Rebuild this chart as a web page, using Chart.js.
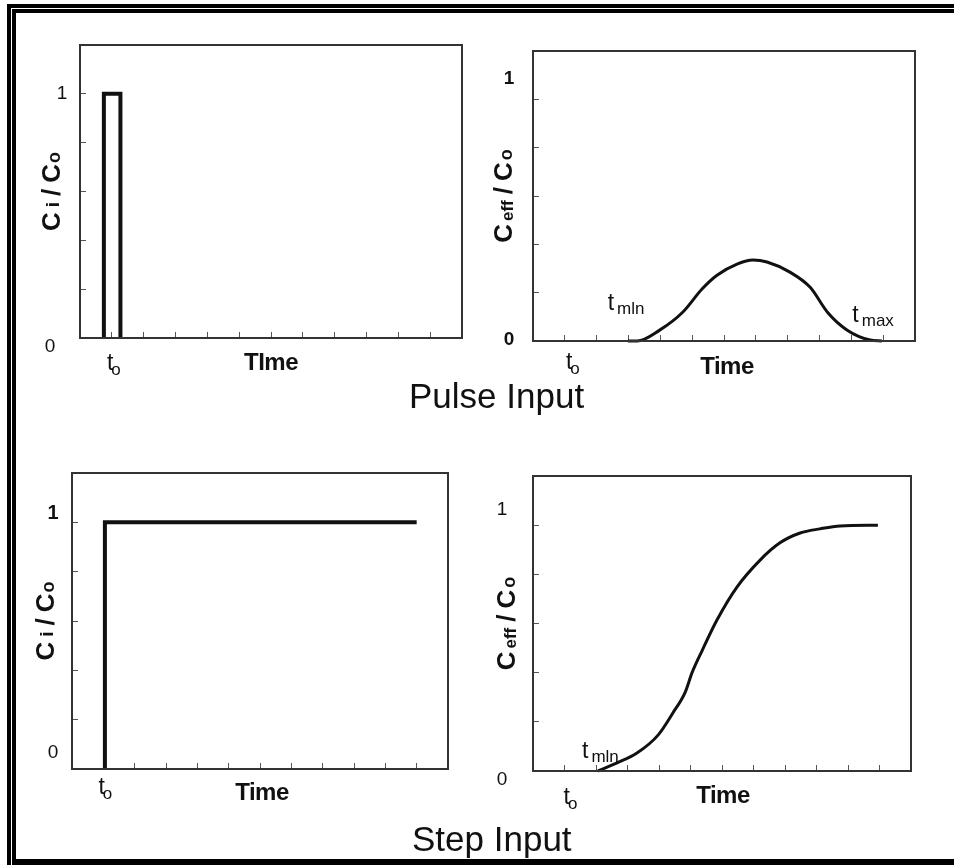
<!DOCTYPE html>
<html>
<head>
<meta charset="utf-8">
<script src="https://cdn.jsdelivr.net/npm/chart.js@4.4.0/dist/chart.umd.min.js"></script>
<style>
html, body { margin: 0; padding: 0; background: #fff; }
body { width: 954px; height: 865px; position: relative; overflow: hidden; font-family: 'Liberation Sans', Arial, sans-serif; }
canvas { position: absolute; }
.bar { position: absolute; background: #000; }
.big { position: absolute; font-size: 35px; line-height: 35px; color: #111; white-space: nowrap; }
</style>
</head>
<body>
<div class="bar" style="left:7px;top:4px;right:0;height:4px"></div>
<div class="bar" style="left:12px;top:9px;right:0;height:4px"></div>
<div class="bar" style="left:7px;top:4px;width:4px;bottom:0"></div>
<div class="bar" style="left:12px;top:9px;width:4px;bottom:0"></div>
<div class="bar" style="left:12px;bottom:0;right:0;height:6px"></div>

<canvas id="c1" width="477" height="420" style="left:0;top:0"></canvas>
<canvas id="c2" width="477" height="420" style="left:477px;top:0"></canvas>
<canvas id="c3" width="477" height="445" style="left:0;top:420px"></canvas>
<canvas id="c4" width="477" height="445" style="left:477px;top:420px"></canvas>

<div class="big" style="left:409px;top:378px">Pulse Input</div>
<div class="big" style="left:412px;top:821px">Step Input</div>

<script>
// --- DATA ---
const timeMin = 0, timeMax = 12, timeStep = 1;
const concMin = 0, concMax = 1.2, concStep = 0.2;
const yTickValues = [0, 1];
const yTickLabels = ['0', '1'];
const toTime = 1; // t_o on the time axis

// pulse input (top left)
const pulseInTime = [0.75, 0.75, 1.27, 1.27];
const pulseInConc = [0, 1, 1, 0];

// pulse response (top right)
const pulseOutTime = [2.98, 3.27, 3.99, 4.71, 5.31, 5.78, 6.41, 6.91, 7.35, 8.07, 8.70, 9.27, 9.86, 10.59, 10.96];
const pulseOutConc = [0, 0, 0.046, 0.12, 0.215, 0.272, 0.318, 0.335, 0.327, 0.285, 0.223, 0.116, 0.046, 0.004, 0];

// step input (bottom left)
const stepInTime = [1.05, 1.05, 11];
const stepInConc = [0, 1, 1];

// step response (bottom right)
const stepOutTime = [2.06, 2.67, 3.30, 3.97, 4.44, 4.83, 5.05, 5.37, 5.84, 6.48, 7.21, 7.84, 8.48, 9.11, 9.75, 10.95];
const stepOutConc = [0, 0.033, 0.073, 0.146, 0.236, 0.32, 0.40, 0.49, 0.614, 0.749, 0.858, 0.928, 0.968, 0.985, 0.997, 1.0];

// --- HELPERS ---
const FAM = "'Liberation Sans', Arial, sans-serif";
const f = (size, bold) => (bold ? 'bold ' : '') + size + 'px ' + FAM;

function zip(xs, ys) { return xs.map((x, i) => ({ x: x, y: ys[i] })); }

function drawRich(ctx, it, x, y) {
    ctx.save();
    ctx.translate(x, y);
    if (it.rot) ctx.rotate(-Math.PI / 2);
    ctx.textBaseline = it.base || 'alphabetic';
    ctx.textAlign = 'left';
    ctx.letterSpacing = (it.ls || 0) + 'px';
    let w = 0;
    it.parts.forEach(p => { ctx.font = p.font; w += ctx.measureText(p.t).width + (p.gap || 0); });
    let cx = it.align === 'left' ? 0 : -w / 2;
    it.parts.forEach(p => {
        ctx.font = p.font;
        ctx.fillText(p.t, cx, p.dy || 0);
        cx += ctx.measureText(p.t).width + (p.gap || 0);
    });
    ctx.restore();
}

function textPlugin(items) {
    return {
        id: 'panelText',
        afterDraw(chart) {
            const ctx = chart.ctx, a = chart.chartArea;
            const xs = chart.scales.x, ys = chart.scales.y;
            ctx.save();
            ctx.strokeStyle = '#333';
            ctx.lineWidth = 2;
            ctx.strokeRect(a.left, a.top, a.right - a.left, a.bottom - a.top);
            ctx.fillStyle = '#111';
            items.forEach(it => {
                const x = (it.xv == null ? a.left : xs.getPixelForValue(it.xv)) + (it.dx || 0);
                const y = (it.yv == null ? a.bottom : ys.getPixelForValue(it.yv)) + (it.dy || 0);
                drawRich(ctx, it, x, y);
            });
            ctx.restore();
        }
    };
}

// tick labels 0 and 1, each with its own offset
function tickItems(styles) {
    return yTickValues.map((v, i) => ({
        parts: [{ t: yTickLabels[i], font: styles[i].font }],
        xv: null, yv: v, dx: styles[i].dx, dy: styles[i].dy, base: 'middle'
    }));
}

function makePanel(id, time, conc, box, items, smooth) {
    const ctx = document.getElementById(id).getContext('2d');
    const gridOpts = { drawOnChartArea: false, drawTicks: true, tickLength: -6, color: '#555', lineWidth: 1 };
    return new Chart(ctx, {
        type: 'scatter',
        data: {
            datasets: [{
                data: zip(time, conc),
                showLine: true,
                borderColor: '#111',
                borderWidth: smooth ? 3 : 4,
                pointRadius: 0,
                tension: smooth ? 0.4 : 0,
                cubicInterpolationMode: smooth ? 'monotone' : 'default',
                borderJoinStyle: 'miter',
                clip: false
            }]
        },
        options: {
            responsive: false,
            animation: false,
            events: [],
            layout: { padding: { top: box.top, right: box.right, bottom: 0, left: 0 } },
            plugins: { legend: { display: false }, tooltip: { enabled: false } },
            scales: {
                x: {
                    type: 'linear', min: timeMin, max: timeMax,
                    ticks: { stepSize: timeStep, display: false },
                    grid: gridOpts,
                    border: { display: false },
                    afterFit: s => { s.height = box.bottom; }
                },
                y: {
                    type: 'linear', min: concMin, max: concMax,
                    ticks: { stepSize: concStep, display: false },
                    grid: gridOpts,
                    border: { display: false },
                    afterFit: s => { s.width = box.left; }
                }
            }
        },
        plugins: [textPlugin(items)]
    });
}

const timeTitle = (txt, dx, dy) => ({ parts: [{ t: txt, font: f(24, true) }], xv: 6, yv: null, dx: dx, dy: dy, ls: -0.5 });
const toLabel = (dx, dy) => ({ parts: [{ t: 't', font: f(23), gap: -2 }, { t: 'o', font: f(17), dy: 5 }], xv: toTime, yv: null, dx: dx, dy: dy });
const ciTitle = (dx) => ({
    parts: [{ t: 'C', font: f(26, true), gap: 5 }, { t: 'i', font: f(19, true), dy: 1, gap: 6 },
            { t: '/', font: f(26, true), gap: 6 }, { t: 'C', font: f(26, true), gap: 1 }, { t: 'o', font: f(18, true), dy: 2 }],
    xv: null, yv: 0.6, dx: dx, dy: 0, rot: true, base: 'middle'
});
const ceffTitle = (dx) => ({
    parts: [{ t: 'C', font: f(26, true), gap: 3 }, { t: 'eff', font: f(17, true), dy: 3, gap: 6 },
            { t: '/', font: f(26, true), gap: 6 }, { t: 'C', font: f(26, true), gap: 2 }, { t: 'o', font: f(18, true), dy: 2 }],
    xv: null, yv: 0.6, dx: dx, dy: 0, rot: true, base: 'middle'
});
const tLabel = (sub, xv, dx, dy) => ({
    parts: [{ t: 't', font: f(23), gap: 3 }, { t: sub, font: f(17), dy: 4 }],
    xv: xv, yv: 0, dx: dx, dy: dy, align: 'left'
});

// --- PANELS ---
makePanel('c1', pulseInTime, pulseInConc, { left: 80, top: 45, right: 15, bottom: 82 }, [
    ...tickItems([{ dx: -30, dy: 9, font: f(19) }, { dx: -18, dy: 0, font: f(19) }]),
    toLabel(2, 32), timeTitle('TIme', 0, 32), ciTitle(-27)
], false);

makePanel('c2', pulseOutTime, pulseOutConc, { left: 56, top: 51, right: 39, bottom: 79 }, [
    ...tickItems([{ dx: -24, dy: -1, font: f(19, true) }, { dx: -24, dy: -21, font: f(19, true) }]),
    toLabel(8, 28), timeTitle('Time', 3, 33), ceffTitle(-28),
    tLabel('mln', 2, 11, -31), tLabel('max', 10, 1, -19)
], true);

makePanel('c3', stepInTime, stepInConc, { left: 72, top: 53, right: 29, bottom: 96 }, [
    ...tickItems([{ dx: -19, dy: -16, font: f(19) }, { dx: -19, dy: -9, font: f(20, true) }]),
    toLabel(2, 25), timeTitle('Time', 2, 31), ciTitle(-25)
], false);

makePanel('c4', stepOutTime, stepOutConc, { left: 56, top: 56, right: 43, bottom: 94 }, [
    ...tickItems([{ dx: -31, dy: 9, font: f(19) }, { dx: -31, dy: -15, font: f(19) }]),
    toLabel(6, 33), timeTitle('Time', 1, 32), ceffTitle(-25),
    tLabel('mln', 2, -14, -13)
], true);
</script>
</body>
</html>
